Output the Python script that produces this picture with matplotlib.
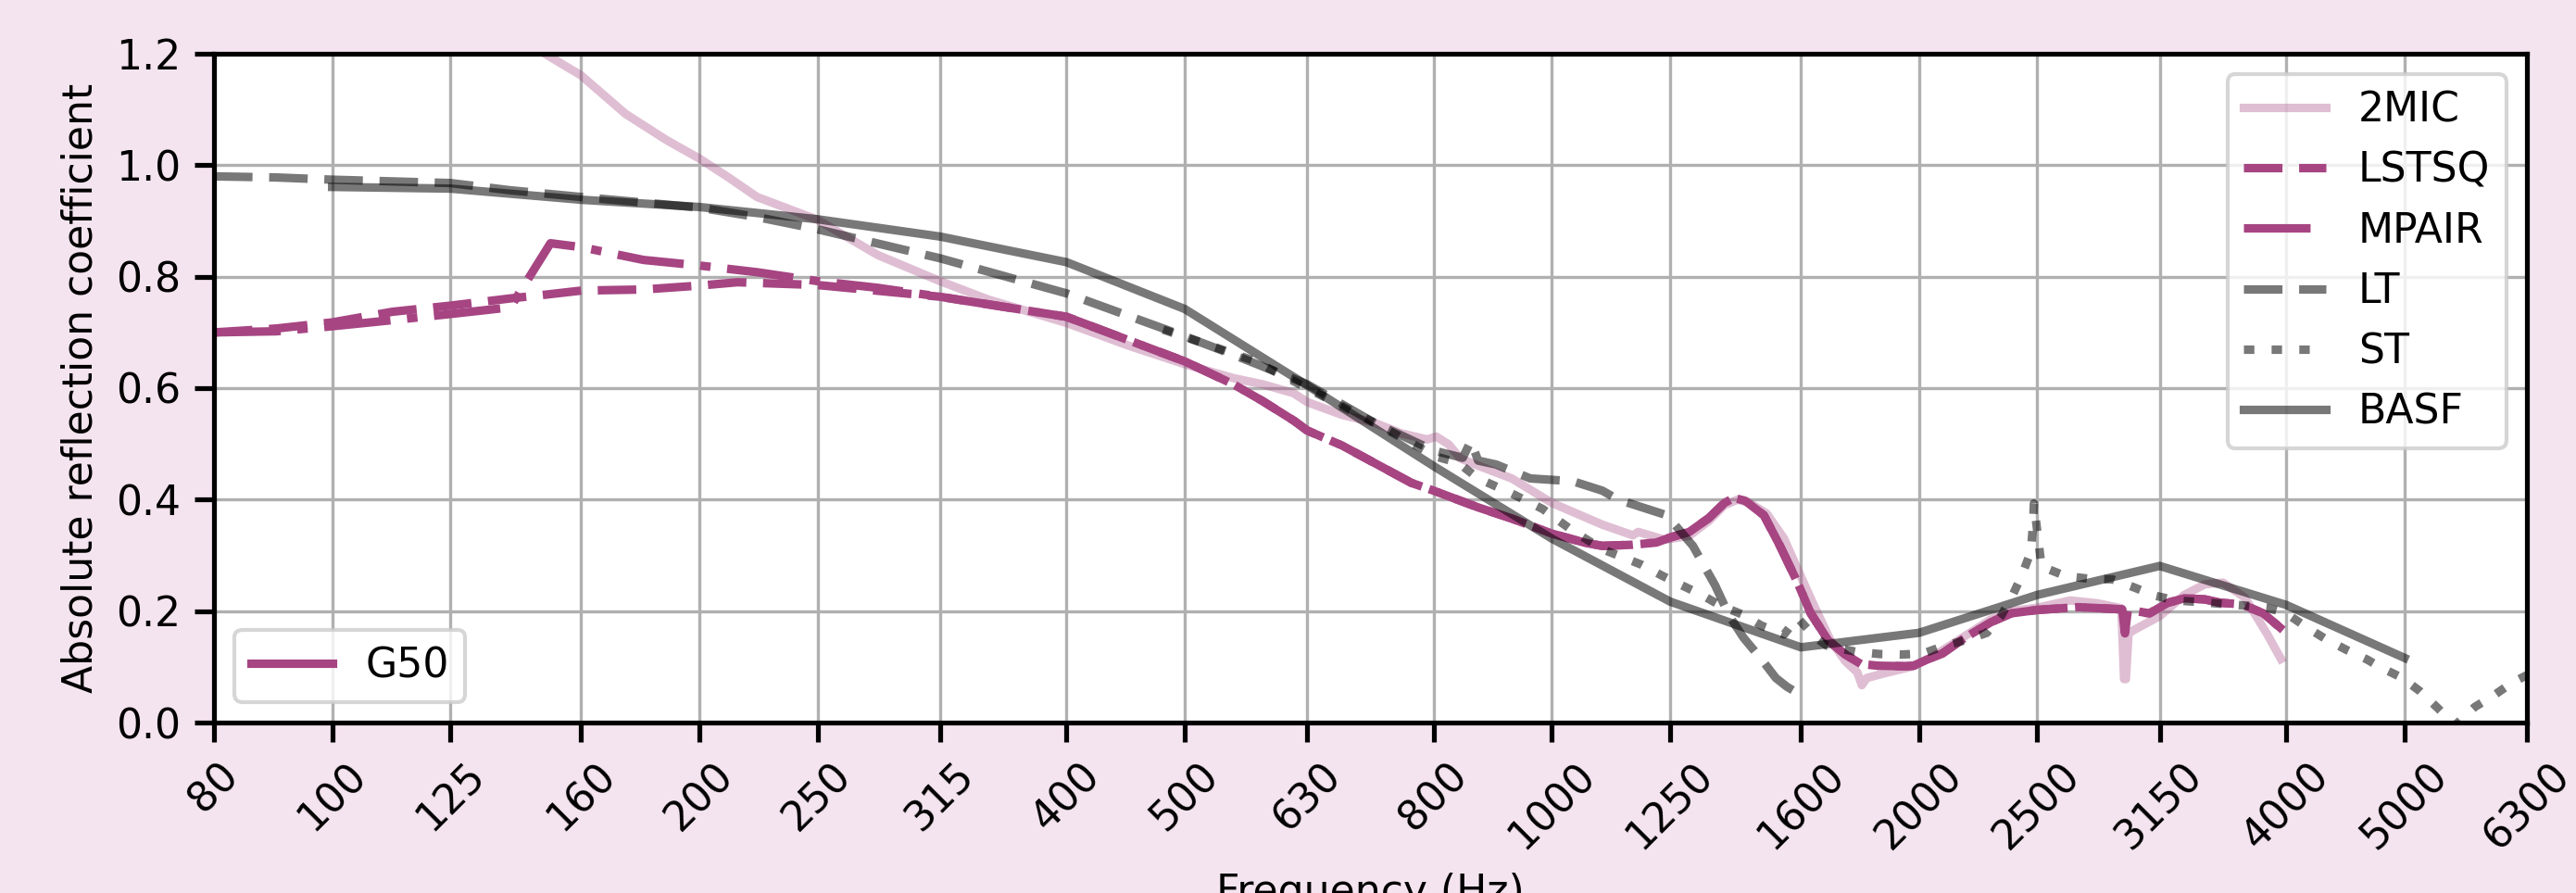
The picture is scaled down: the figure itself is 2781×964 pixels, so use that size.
import numpy as np
import matplotlib
matplotlib.use("Agg")
import matplotlib.pyplot as plt

# octave-band tick labels
tick_freqs = [80, 100, 125, 160, 200, 250, 315, 400, 500, 630, 800, 1000,
              1250, 1600, 2000, 2500, 3150, 4000, 5000, 6300]
tick_labels = [str(f) for f in tick_freqs]

# 2MIC (clipped above 1.2 at low frequency)
f_2mic = [145, 151, 160, 174, 188, 200, 211, 223, 250, 280, 315, 345, 400, 450,
          500, 548, 579, 614, 630, 673, 715, 752, 790, 804, 823, 841, 870, 927,
          1000, 1100, 1165, 1177, 1237, 1296, 1345, 1385, 1420, 1450, 1500,
          1550, 1600, 1640, 1690, 1740, 1780, 1795, 1812, 1870, 1970, 2040,
          2180, 2290, 2380, 2500, 2660, 2800, 2930, 2945, 2955, 2970, 3000,
          3150, 3300, 3430, 3550, 3700, 3860, 3960]
v_2mic = [1.218, 1.194, 1.161, 1.092, 1.045, 1.012, 0.979, 0.943, 0.902, 0.839,
          0.792, 0.759, 0.717, 0.676, 0.643, 0.618, 0.607, 0.591, 0.575, 0.552,
          0.538, 0.519, 0.508, 0.513, 0.499, 0.474, 0.461, 0.438, 0.394, 0.355,
          0.336, 0.342, 0.328, 0.335, 0.362, 0.390, 0.400, 0.395, 0.375, 0.330,
          0.262, 0.210, 0.150, 0.110, 0.090, 0.067, 0.080, 0.088, 0.100, 0.115,
          0.155, 0.185, 0.200, 0.206, 0.219, 0.214, 0.205, 0.078, 0.078, 0.160,
          0.166, 0.191, 0.229, 0.248, 0.251, 0.224, 0.158, 0.114]

# LSTSQ
f_lstsq = [80, 90, 100, 112, 125, 140, 150, 160, 180, 200, 215, 250, 315, 400,
           500, 548, 579, 615, 630, 673, 715, 767, 800, 870, 927, 1000, 1067,
           1100, 1165, 1218, 1250, 1296, 1345, 1385, 1410, 1440, 1492, 1538,
           1590, 1630, 1685, 1740, 1792, 1850, 1950, 1980, 2030, 2090, 2180,
           2290, 2380, 2500, 2700, 2950, 3090, 3200, 3300, 3430, 3530, 3680,
           3830, 3975]
v_lstsq = [0.700, 0.707, 0.718, 0.737, 0.748, 0.761, 0.768, 0.775, 0.777, 0.784,
           0.790, 0.785, 0.764, 0.728, 0.648, 0.607, 0.577, 0.541, 0.524, 0.497,
           0.466, 0.430, 0.416, 0.386, 0.366, 0.339, 0.322, 0.317, 0.319, 0.323,
           0.332, 0.342, 0.367, 0.394, 0.403, 0.398, 0.372, 0.317, 0.251, 0.196,
           0.147, 0.122, 0.105, 0.102, 0.101, 0.102, 0.113, 0.124, 0.152, 0.180,
           0.196, 0.202, 0.207, 0.203, 0.196, 0.215, 0.223, 0.221, 0.215, 0.212,
           0.196, 0.166]

# MPAIR
f_mpair = [80, 90, 100, 112, 125, 140, 151, 160, 180, 200, 223, 250, 280, 315,
           400, 500, 548, 579, 615, 630, 673, 715, 767, 800, 870, 927, 1000,
           1067, 1100, 1165, 1218, 1250, 1296, 1345, 1385, 1410, 1440, 1492,
           1538, 1590, 1630, 1685, 1740, 1792, 1850, 1950, 1980, 2030, 2090,
           2180, 2290, 2380, 2500, 2700, 2935, 2950, 2965, 3090, 3200, 3300,
           3430, 3530, 3680, 3830, 3975]
v_mpair = [0.700, 0.702, 0.711, 0.722, 0.733, 0.745, 0.860, 0.853, 0.830, 0.820,
           0.808, 0.792, 0.780, 0.764, 0.728, 0.648, 0.607, 0.577, 0.541, 0.524,
           0.497, 0.466, 0.430, 0.416, 0.386, 0.366, 0.339, 0.322, 0.317, 0.319,
           0.323, 0.332, 0.342, 0.367, 0.394, 0.403, 0.398, 0.372, 0.317, 0.251,
           0.196, 0.147, 0.122, 0.105, 0.102, 0.101, 0.102, 0.113, 0.124, 0.152,
           0.180, 0.196, 0.202, 0.207, 0.203, 0.160, 0.200, 0.196, 0.215, 0.223,
           0.221, 0.215, 0.212, 0.196, 0.166]

# LT
f_lt = [80, 90, 100, 125, 140, 160, 200, 223, 250, 315, 400, 500, 545, 630, 715,
        800, 845, 858, 870, 900, 960, 1040, 1100, 1133, 1242, 1305, 1361, 1398,
        1436, 1486, 1526, 1559, 1590]
v_lt = [0.980, 0.978, 0.974, 0.968, 0.955, 0.943, 0.924, 0.907, 0.885, 0.833,
        0.770, 0.693, 0.662, 0.607, 0.538, 0.488, 0.475, 0.505, 0.470, 0.463,
        0.438, 0.433, 0.416, 0.400, 0.372, 0.317, 0.246, 0.191, 0.152, 0.113,
        0.080, 0.064, 0.053]

# ST
f_st = [480, 516, 570, 630, 715, 804, 838, 870, 927, 983, 1040, 1100, 1185, 1230,
        1273, 1327, 1374, 1436, 1485, 1550, 1574, 1590, 1640, 1680, 1775, 1855,
        1934, 2016, 2088, 2200, 2273, 2336, 2388, 2430, 2470, 2480, 2484, 2520,
        2636, 2757, 2880, 2997, 3117, 3250, 3410, 3540, 3700, 3860, 4000, 4156,
        4315, 4485, 4660, 4770, 4980, 5150, 5330, 5500, 5710, 5930, 6130, 6300]
v_st = [0.705, 0.682, 0.649, 0.600, 0.538, 0.477, 0.466, 0.438, 0.411, 0.383,
        0.344, 0.311, 0.283, 0.264, 0.248, 0.229, 0.210, 0.193, 0.174, 0.158,
        0.177, 0.188, 0.155, 0.138, 0.127, 0.123, 0.122, 0.124, 0.136, 0.150,
        0.161, 0.192, 0.230, 0.266, 0.307, 0.357, 0.393, 0.280, 0.263, 0.258,
        0.257, 0.243, 0.228, 0.219, 0.216, 0.213, 0.210, 0.206, 0.196, 0.171,
        0.149, 0.130, 0.113, 0.100, 0.080, 0.056, 0.025, -0.005, 0.028, 0.050,
        0.072, 0.085]

# BASF (third-octave bands)
f_basf = [100, 125, 160, 200, 250, 315, 400, 500, 630, 800, 1000, 1250, 1600,
          2000, 2500, 3150, 4000, 5000]
v_basf = [0.961, 0.958, 0.938, 0.925, 0.903, 0.872, 0.826, 0.742, 0.605, 0.460,
          0.330, 0.217, 0.135, 0.161, 0.229, 0.281, 0.211, 0.116]

magenta = "#a64582"
bg = "#f4e4ef"

plt.rcParams["font.size"] = 10.6
plt.rcParams["axes.linewidth"] = 1.25
plt.rcParams["xtick.major.size"] = 5
plt.rcParams["ytick.major.size"] = 5
plt.rcParams["xtick.major.width"] = 1.25
plt.rcParams["ytick.major.width"] = 1.25

fig = plt.figure(figsize=(2781 / 300, 964 / 300), dpi=300, facecolor=bg)
ax = fig.add_axes([231 / 2781, 184 / 964, 2497 / 2781, 722 / 964])

lw = 2.2
dash = (0, (4.54, 1.96))
dot = (0, (1.23, 2.03))
dashdot = (0, (7.85, 1.96, 1.23, 1.96))

ax.plot(f_2mic, v_2mic, color=magenta, alpha=0.35, lw=lw, label="2MIC")
ax.plot(f_lstsq, v_lstsq, color=magenta, ls=dash, lw=lw, label="LSTSQ")
ax.plot(f_mpair, v_mpair, color=magenta, ls=dashdot, lw=lw, label="MPAIR")
ax.plot(f_lt, v_lt, color="k", alpha=0.53, ls=dash, lw=lw, label="LT")
ax.plot(f_st, v_st, color="k", alpha=0.53, ls=dot, lw=lw, label="ST")
ax.plot(f_basf, v_basf, color="k", alpha=0.53, lw=lw, label="BASF")

ax.set_xscale("log")
ax.set_xlim(80, 6300)
ax.set_ylim(0, 1.2)
ax.set_xticks(tick_freqs)
ax.set_xticklabels(tick_labels, rotation=45)
ax.xaxis.set_minor_locator(matplotlib.ticker.NullLocator())
ax.set_yticks(np.arange(0, 1.21, 0.2))
ax.yaxis.set_major_formatter(matplotlib.ticker.FormatStrFormatter("%.1f"))
ax.grid(True, color="#b0b0b0", lw=0.8)
ax.set_xlabel("Frequency (Hz)")
ax.set_ylabel("Absolute reflection coefficient")

leg1 = ax.legend(loc="upper right")
ax.add_artist(leg1)
g50, = ax.plot([], [], color=magenta, lw=lw)
ax.legend([g50], ["G50"], loc="lower left")

fig.savefig("out.png", dpi=300, facecolor=bg)
